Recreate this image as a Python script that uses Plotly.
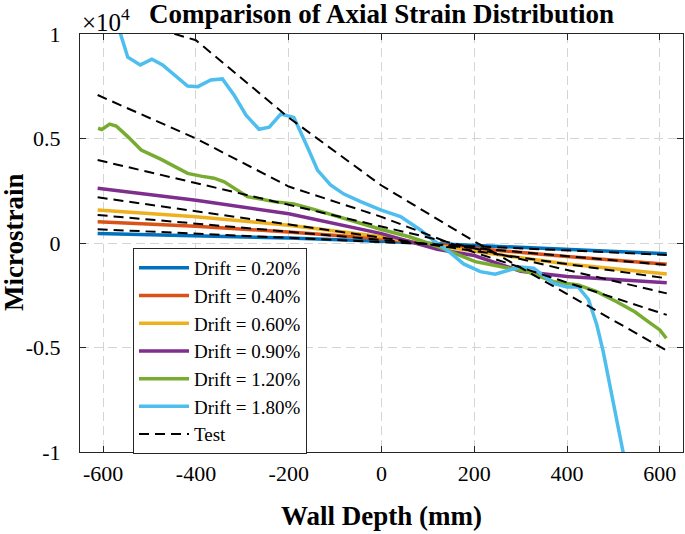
import plotly.graph_objects as go

# ---- data (microstrain) ----
drift_labels = ["Drift = 0.20%", "Drift = 0.40%", "Drift = 0.60%",
                "Drift = 0.90%", "Drift = 1.20%", "Drift = 1.80%"]
colors = ["#0072BD", "#D95319", "#EDB120", "#7E2F8E", "#77AC30", "#4DBEEE"]

fe_x_02 = [-612, -400, -200, 0, 200, 400, 615]
fe_y_02 = [460, 360, 240, 80, -120, -310, -510]

fe_x_04 = [-612, -400, -200, 0, 200, 400, 615]
fe_y_04 = [1020, 800, 530, 200, -250, -650, -1020]

fe_x_06 = [-612, -400, -200, 0, 200, 400, 615]
fe_y_06 = [1580, 1250, 850, 300, -400, -1000, -1480]

fe_x_09 = [-612, -400, -200, 0, 120, 200, 300, 400, 615]
fe_y_09 = [2620, 2050, 1400, 450, -300, -600, -1350, -1600, -1900]

fe_x_12 = [-611, -603, -586, -572, -547, -518, -475, -418, -389, -361, -339, -289,
           -232, -189, -146, -81, -2, 60, 123, 202, 313, 342, 371, 424, 464, 507,
           546, 575, 600, 614]
fe_y_12 = [5490, 5430, 5690, 5600, 5090, 4450, 4000, 3330, 3200, 3100, 2930, 2220,
           1980, 1870, 1610, 1180, 660, 300, -180, -890, -1370, -1610, -1850, -2010,
           -2330, -2810, -3290, -3760, -4160, -4560]

fe_x_18 = [-612, -563, -547, -520, -495, -472, -418, -396, -368, -343, -318, -292,
           -264, -242, -217, -189, -160, -138, -110, -81, -45, -2, 41, 84, 116, 141,
           177, 213, 245, 272, 299, 328, 371, 400, 424, 446, 464, 478, 492, 521, 535]
fe_y_18 = [13000, 10030, 8890, 8520, 8790, 8520, 7510, 7480, 7800, 7850, 7080, 6120,
           5440, 5540, 6170, 6010, 4610, 3490, 2780, 2340, 1980, 1580, 1260, 620, 60,
           -330, -1000, -1370, -1490, -1330, -1150, -1200, -1930, -2100, -2100, -2700,
           -3900, -5200, -6700, -10000, -11600]

test_x_02 = [-612, 615]
test_y_02 = [660, -570]
test_x_04 = [-612, 615]
test_y_04 = [1340, -1050]
test_x_06 = [-612, 615]
test_y_06 = [2190, -1690]
test_x_09 = [-612, 615]
test_y_09 = [3970, -2410]
test_x_12 = [-612, -400, -200, 0, 200, 400, 615]
test_y_12 = [7080, 5000, 2700, 1250, -450, -1900, -3440]
test_x_18 = [-612, -400, -200, 0, 200, 400, 615]
test_y_18 = [11100, 9700, 6000, 2750, 80, -2450, -5150]

x_ticks = [-600, -400, -200, 0, 200, 400, 600]
x_tick_text = ["-600", "-400", "-200", "0", "200", "400", "600"]
y_ticks = [-10000, -5000, 0, 5000, 10000]
y_tick_text = ["-1", "-0.5", "0", "0.5", "1"]

fe_x = [fe_x_02, fe_x_04, fe_x_06, fe_x_09, fe_x_12, fe_x_18]
fe_y = [fe_y_02, fe_y_04, fe_y_06, fe_y_09, fe_y_12, fe_y_18]
test_x = [test_x_02, test_x_04, test_x_06, test_x_09, test_x_12, test_x_18]
test_y = [test_y_02, test_y_04, test_y_06, test_y_09, test_y_12, test_y_18]

FONT = "Liberation Serif, Times New Roman, serif"

fig = go.Figure()
for xs, ys, name, c in zip(fe_x, fe_y, drift_labels, colors):
    fig.add_trace(go.Scatter(x=xs, y=ys, mode="lines", name=name,
                             line=dict(color=c, width=3.5)))
for i, (xs, ys) in enumerate(zip(test_x, test_y)):
    fig.add_trace(go.Scatter(x=xs, y=ys, mode="lines", name="Test",
                             showlegend=(i == 0), legendgroup="test",
                             line=dict(color="black", width=2, dash="10px,6px")))

axis_common = dict(
    showline=True, linecolor="#262626", linewidth=1, mirror="ticks",
    ticks="inside", ticklen=6, tickcolor="#262626", automargin=False,
    showgrid=True, gridcolor="#d4d4d4", gridwidth=1, griddash="9px,5px",
    zeroline=False, tickfont=dict(family=FONT, size=22, color="black"),
)

fig.update_layout(
    width=685, height=534,
    margin=dict(l=80, r=2, t=34, b=82, autoexpand=False),
    paper_bgcolor="white", plot_bgcolor="white",
    font=dict(family=FONT, color="black"),
    title=dict(text="<b>Comparison of Axial Strain Distribution</b>",
               x=0.5, xref="paper", xanchor="center",
               y=1 - 14 / 534, yref="container", yanchor="middle", automargin=False,
               font=dict(family=FONT, size=27, color="black")),
    xaxis=dict(range=[-650, 650], tickvals=x_ticks, ticktext=x_tick_text,
               ticklabelstandoff=2, **axis_common),
    yaxis=dict(range=[-10000, 10000], tickvals=y_ticks, ticktext=y_tick_text,
               ticklabelstandoff=14, **axis_common),
    legend=dict(x=(133 - 80) / 603, y=(452 - 248) / 418, xanchor="left", yanchor="top",
                bgcolor="white", bordercolor="#262626", borderwidth=1,
                font=dict(family=FONT, size=19, color="black"),
                tracegroupgap=0, itemwidth=50),
    showlegend=True,
)

fig.add_annotation(text="×10<sup>4</sup>", xref="paper", yref="paper", x=0, y=1,
                   xanchor="left", yanchor="bottom", showarrow=False, xshift=0, yshift=-4,
                   font=dict(family=FONT, size=25, color="black"))
fig.add_annotation(text="<b>Wall Depth (mm)</b>", xref="paper", yref="paper", x=0.5, y=0,
                   xanchor="center", yanchor="middle", showarrow=False, yshift=-64,
                   font=dict(family=FONT, size=27, color="black"))
fig.add_annotation(text="<b>Microstrain</b>", xref="paper", yref="paper", x=0, y=0.5,
                   xanchor="center", yanchor="middle", showarrow=False, xshift=-66,
                   textangle=-90, font=dict(family=FONT, size=27, color="black"))

fig.write_html("out.html", config={"displayModeBar": False},
               post_script="document.body.style.margin='0px';")
